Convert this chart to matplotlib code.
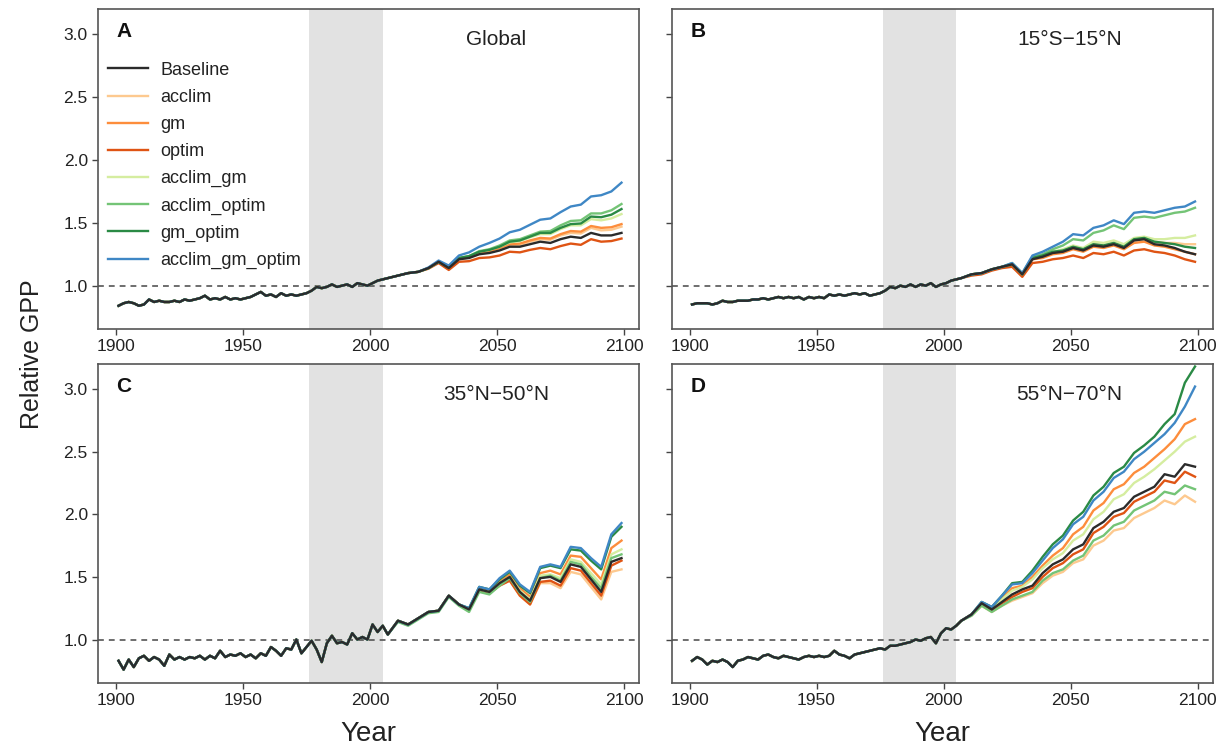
import numpy as np
import matplotlib
matplotlib.use('Agg')
import matplotlib.pyplot as plt

plt.rcParams['font.family'] = ['Liberation Sans', 'DejaVu Sans']

# years: shared history (every 2nd year) and scenario period (every 4th year)
hist_years = np.arange(1901, 2006, 2)
fut_years = np.arange(2007, 2100, 4)

# ---- A: Global ----
hist_global = [0.84, 0.86, 0.87, 0.86, 0.84, 0.85, 0.89, 0.87, 0.88, 0.87,
               0.87, 0.88, 0.87, 0.89, 0.88, 0.89, 0.90, 0.92, 0.89, 0.90,
               0.89, 0.91, 0.89, 0.90, 0.89, 0.90, 0.91, 0.93, 0.95, 0.92,
               0.93, 0.91, 0.94, 0.92, 0.93, 0.92, 0.93, 0.94, 0.96, 0.99,
               0.98, 0.99, 1.01, 0.99, 1.00, 1.01, 0.99, 1.02, 1.01, 1.00,
               1.02, 1.04, 1.05]
global_baseline = [1.06, 1.08, 1.10, 1.11, 1.14, 1.19, 1.14, 1.21, 1.22, 1.25, 1.26, 1.28,
                   1.31, 1.31, 1.33, 1.35, 1.34, 1.37, 1.39, 1.38, 1.42, 1.40, 1.40, 1.42]
global_acclim = [1.06, 1.08, 1.10, 1.11, 1.14, 1.19, 1.14, 1.21, 1.225, 1.255, 1.27, 1.29,
                 1.325, 1.325, 1.35, 1.37, 1.365, 1.40, 1.42, 1.415, 1.46, 1.44, 1.445, 1.47]
global_gm = [1.06, 1.08, 1.10, 1.11, 1.14, 1.19, 1.145, 1.215, 1.23, 1.26, 1.275, 1.30,
             1.33, 1.335, 1.36, 1.38, 1.375, 1.41, 1.435, 1.43, 1.475, 1.46, 1.465, 1.49]
global_optim = [1.06, 1.08, 1.10, 1.11, 1.135, 1.18, 1.125, 1.19, 1.195, 1.22, 1.225, 1.24,
                1.27, 1.265, 1.285, 1.30, 1.29, 1.315, 1.335, 1.325, 1.37, 1.35, 1.355, 1.375]
global_acclim_gm = [1.06, 1.08, 1.10, 1.11, 1.14, 1.19, 1.145, 1.22, 1.235, 1.27, 1.285, 1.31,
                    1.345, 1.355, 1.385, 1.41, 1.41, 1.45, 1.48, 1.48, 1.53, 1.52, 1.535, 1.57]
global_acclim_optim = [1.06, 1.08, 1.10, 1.11, 1.14, 1.19, 1.145, 1.22, 1.235, 1.275, 1.29, 1.32,
                       1.36, 1.37, 1.40, 1.43, 1.435, 1.48, 1.515, 1.52, 1.575, 1.575, 1.60, 1.65]
global_gm_optim = [1.06, 1.08, 1.10, 1.11, 1.14, 1.19, 1.145, 1.22, 1.235, 1.27, 1.285, 1.31,
                   1.35, 1.36, 1.39, 1.42, 1.42, 1.46, 1.49, 1.495, 1.55, 1.545, 1.565, 1.61]
global_acclim_gm_optim = [1.06, 1.08, 1.10, 1.11, 1.145, 1.20, 1.16, 1.24, 1.265, 1.31, 1.34, 1.375,
                          1.425, 1.445, 1.485, 1.525, 1.535, 1.585, 1.63, 1.645, 1.71, 1.72, 1.75, 1.82]

# ---- B: 15S-15N ----
hist_trop = [0.85, 0.86, 0.86, 0.86, 0.85, 0.86, 0.88, 0.87, 0.87, 0.88,
             0.88, 0.88, 0.89, 0.89, 0.90, 0.89, 0.90, 0.91, 0.90, 0.91,
             0.90, 0.91, 0.89, 0.91, 0.90, 0.91, 0.90, 0.93, 0.92, 0.93,
             0.92, 0.93, 0.94, 0.93, 0.94, 0.92, 0.93, 0.94, 0.96, 0.99,
             0.98, 1.00, 0.99, 1.01, 0.99, 1.01, 1.00, 1.02, 0.99, 1.01,
             1.02, 1.04, 1.05]
trop_baseline = [1.06, 1.09, 1.10, 1.13, 1.15, 1.17, 1.09, 1.21, 1.23, 1.26, 1.27, 1.30,
                 1.28, 1.32, 1.31, 1.33, 1.30, 1.36, 1.37, 1.33, 1.32, 1.30, 1.27, 1.25]
trop_acclim = [1.06, 1.09, 1.10, 1.13, 1.15, 1.17, 1.09, 1.21, 1.23, 1.26, 1.28, 1.31,
               1.29, 1.33, 1.32, 1.34, 1.31, 1.36, 1.37, 1.35, 1.34, 1.34, 1.33, 1.33]
trop_gm = [1.06, 1.09, 1.10, 1.13, 1.15, 1.17, 1.09, 1.21, 1.22, 1.25, 1.26, 1.29,
           1.27, 1.31, 1.30, 1.32, 1.29, 1.34, 1.35, 1.32, 1.31, 1.29, 1.27, 1.25]
trop_optim = [1.06, 1.08, 1.09, 1.12, 1.14, 1.15, 1.07, 1.18, 1.19, 1.21, 1.22, 1.24,
              1.22, 1.26, 1.25, 1.27, 1.24, 1.28, 1.29, 1.27, 1.26, 1.24, 1.21, 1.19]
trop_acclim_gm = [1.06, 1.09, 1.10, 1.13, 1.15, 1.17, 1.09, 1.22, 1.24, 1.27, 1.29, 1.32,
                  1.30, 1.35, 1.34, 1.36, 1.33, 1.38, 1.39, 1.37, 1.37, 1.38, 1.38, 1.40]
trop_acclim_optim = [1.06, 1.09, 1.10, 1.13, 1.15, 1.18, 1.10, 1.23, 1.25, 1.29, 1.32, 1.37,
                     1.36, 1.42, 1.44, 1.48, 1.45, 1.54, 1.55, 1.54, 1.56, 1.58, 1.59, 1.62]
trop_gm_optim = [1.06, 1.09, 1.10, 1.13, 1.15, 1.17, 1.09, 1.22, 1.24, 1.27, 1.28, 1.31,
                 1.29, 1.33, 1.32, 1.34, 1.31, 1.37, 1.38, 1.35, 1.34, 1.33, 1.31, 1.30]
trop_acclim_gm_optim = [1.06, 1.09, 1.10, 1.13, 1.15, 1.18, 1.10, 1.24, 1.27, 1.31, 1.35, 1.41,
                        1.40, 1.46, 1.48, 1.52, 1.49, 1.58, 1.59, 1.58, 1.60, 1.62, 1.63, 1.67]

# ---- C: 35N-50N ----
hist_mid = [0.83, 0.76, 0.84, 0.78, 0.85, 0.87, 0.83, 0.86, 0.84, 0.79,
            0.88, 0.84, 0.86, 0.84, 0.86, 0.85, 0.87, 0.84, 0.87, 0.85,
            0.91, 0.86, 0.88, 0.87, 0.89, 0.86, 0.88, 0.85, 0.89, 0.87,
            0.94, 0.91, 0.87, 0.93, 0.92, 1.00, 0.89, 0.94, 0.99, 0.92,
            0.82, 0.97, 1.03, 0.97, 0.98, 0.96, 1.05, 1.00, 1.02, 1.00,
            1.12, 1.06, 1.11]
mid_baseline = [1.04, 1.15, 1.12, 1.17, 1.22, 1.23, 1.35, 1.28, 1.24, 1.40, 1.38, 1.45,
                1.50, 1.38, 1.31, 1.49, 1.50, 1.46, 1.60, 1.58, 1.48, 1.38, 1.62, 1.65]
mid_acclim = [1.04, 1.15, 1.12, 1.17, 1.22, 1.23, 1.35, 1.28, 1.24, 1.40, 1.37, 1.43,
              1.47, 1.35, 1.28, 1.45, 1.45, 1.41, 1.54, 1.52, 1.42, 1.32, 1.54, 1.56]
mid_gm = [1.04, 1.15, 1.12, 1.17, 1.22, 1.23, 1.35, 1.28, 1.24, 1.41, 1.39, 1.46,
          1.52, 1.41, 1.34, 1.53, 1.55, 1.52, 1.67, 1.66, 1.57, 1.48, 1.73, 1.79]
mid_optim = [1.04, 1.15, 1.12, 1.17, 1.22, 1.23, 1.35, 1.28, 1.24, 1.39, 1.37, 1.43,
             1.47, 1.35, 1.28, 1.46, 1.47, 1.43, 1.57, 1.55, 1.45, 1.35, 1.59, 1.63]
mid_acclim_gm = [1.04, 1.15, 1.12, 1.17, 1.22, 1.23, 1.35, 1.28, 1.24, 1.40, 1.38, 1.45,
                 1.50, 1.39, 1.32, 1.51, 1.52, 1.49, 1.64, 1.62, 1.53, 1.44, 1.68, 1.72]
mid_acclim_optim = [1.04, 1.14, 1.11, 1.16, 1.21, 1.22, 1.34, 1.27, 1.22, 1.38, 1.36, 1.43,
                    1.49, 1.37, 1.30, 1.49, 1.51, 1.47, 1.62, 1.60, 1.50, 1.41, 1.65, 1.68]
mid_gm_optim = [1.04, 1.15, 1.12, 1.17, 1.22, 1.23, 1.35, 1.28, 1.25, 1.42, 1.40, 1.48,
                1.54, 1.43, 1.37, 1.57, 1.59, 1.57, 1.72, 1.71, 1.63, 1.56, 1.82, 1.90]
mid_acclim_gm_optim = [1.04, 1.15, 1.12, 1.17, 1.22, 1.23, 1.35, 1.28, 1.25, 1.42, 1.40, 1.49,
                       1.55, 1.44, 1.38, 1.58, 1.60, 1.58, 1.74, 1.73, 1.65, 1.58, 1.84, 1.93]

# ---- D: 55N-70N ----
hist_boreal = [0.83, 0.86, 0.84, 0.80, 0.83, 0.82, 0.84, 0.82, 0.78, 0.83,
               0.84, 0.86, 0.85, 0.84, 0.87, 0.88, 0.86, 0.85, 0.87, 0.86,
               0.85, 0.84, 0.86, 0.87, 0.86, 0.87, 0.86, 0.87, 0.91, 0.88,
               0.87, 0.85, 0.88, 0.89, 0.90, 0.91, 0.92, 0.93, 0.92, 0.95,
               0.95, 0.96, 0.97, 0.98, 1.00, 0.99, 1.01, 1.02, 0.97, 1.05,
               1.09, 1.08, 1.11]
boreal_baseline = [1.15, 1.20, 1.29, 1.24, 1.30, 1.36, 1.40, 1.43, 1.53, 1.60, 1.64, 1.72,
                   1.76, 1.89, 1.94, 2.02, 2.05, 2.14, 2.18, 2.22, 2.32, 2.30, 2.40, 2.38]
boreal_acclim = [1.15, 1.19, 1.27, 1.22, 1.27, 1.31, 1.34, 1.37, 1.45, 1.51, 1.54, 1.61,
                 1.64, 1.75, 1.79, 1.87, 1.89, 1.97, 2.01, 2.05, 2.11, 2.08, 2.15, 2.10]
boreal_gm = [1.15, 1.20, 1.29, 1.25, 1.33, 1.41, 1.43, 1.50, 1.59, 1.67, 1.73, 1.84,
             1.90, 2.03, 2.09, 2.20, 2.24, 2.33, 2.38, 2.45, 2.52, 2.60, 2.72, 2.76]
boreal_optim = [1.15, 1.20, 1.28, 1.23, 1.29, 1.34, 1.38, 1.41, 1.50, 1.57, 1.61, 1.68,
                1.72, 1.85, 1.90, 1.98, 2.01, 2.10, 2.14, 2.18, 2.27, 2.25, 2.34, 2.30]
boreal_acclim_gm = [1.15, 1.20, 1.29, 1.25, 1.32, 1.39, 1.42, 1.48, 1.57, 1.64, 1.69, 1.79,
                    1.84, 1.96, 2.02, 2.12, 2.16, 2.25, 2.30, 2.36, 2.43, 2.50, 2.58, 2.62]
boreal_acclim_optim = [1.15, 1.19, 1.27, 1.22, 1.27, 1.32, 1.35, 1.38, 1.47, 1.53, 1.56, 1.63,
                       1.67, 1.79, 1.83, 1.91, 1.94, 2.03, 2.07, 2.11, 2.18, 2.16, 2.23, 2.20]
boreal_gm_optim = [1.15, 1.20, 1.30, 1.26, 1.35, 1.45, 1.46, 1.55, 1.66, 1.76, 1.83, 1.95,
                   2.02, 2.15, 2.22, 2.33, 2.38, 2.49, 2.55, 2.62, 2.72, 2.80, 3.05, 3.18]
boreal_acclim_gm_optim = [1.15, 1.20, 1.30, 1.26, 1.35, 1.44, 1.45, 1.53, 1.63, 1.73, 1.80, 1.92,
                          1.98, 2.11, 2.18, 2.29, 2.34, 2.44, 2.50, 2.57, 2.64, 2.73, 2.86, 3.02]

scenarios = ['Baseline', 'acclim', 'gm', 'optim', 'acclim_gm',
             'acclim_optim', 'gm_optim', 'acclim_gm_optim']
colors = ['#2b2b2b', '#fdc98f', '#fd8d3c', '#df5414', '#d5eda0',
          '#74c476', '#2a8a45', '#3f87c5']


def draw_panel(ax, hist, runs, letter, region, left_labels):
  ax.axvspan(1976, 2005, color='#e2e2e2', lw=0, zorder=0)
  ax.axhline(1.0, color='#555555', ls=(0, (3.5, 3)), lw=1.2, zorder=1)

  # draw scenarios first, baseline on top
  order = list(range(1, len(scenarios))) + [0]
  lines = {}
  for i in order:
    x = np.concatenate([hist_years, fut_years])
    y = np.concatenate([hist, runs[i]])
    ln, = ax.plot(x, y, color=colors[i], lw=1.7, zorder=2 + i if i else 12,
                  label=scenarios[i])
    lines[i] = ln
  handles = [lines[i] for i in range(len(scenarios))]

  ax.set_xlim(1893, 2106)
  ax.set_ylim(0.655, 3.2)
  ax.set_xticks([1900, 1950, 2000, 2050, 2100])
  ax.set_yticks([1.0, 1.5, 2.0, 2.5, 3.0])
  ax.set_yticklabels(['1.0', '1.5', '2.0', '2.5', '3.0'])
  ax.tick_params(direction='out', length=4, width=1, color='#444444',
                 labelsize=12.5, labelcolor='#222222', labelleft=left_labels)
  for s in ax.spines.values():
    s.set_color('#555555')
    s.set_linewidth(1.2)

  ax.text(0.034, 0.93, letter, transform=ax.transAxes, fontsize=15,
          fontweight='bold', va='center', ha='left', color='#111111')
  ax.text(0.735, 0.905, region, transform=ax.transAxes, fontsize=15,
          va='center', ha='center', color='#222222')
  return handles


def main():
  fig = plt.figure(figsize=(12.2, 7.45), dpi=100)
  w = 0.4435
  ax_a = fig.add_axes([0.0805, 0.5584, w, 0.4291])
  ax_b = fig.add_axes([0.5506, 0.5584, w, 0.4291])
  ax_c = fig.add_axes([0.0805, 0.0836, w, 0.4278])
  ax_d = fig.add_axes([0.5506, 0.0836, w, 0.4278])

  runs_a = [global_baseline, global_acclim, global_gm, global_optim,
            global_acclim_gm, global_acclim_optim, global_gm_optim, global_acclim_gm_optim]
  runs_b = [trop_baseline, trop_acclim, trop_gm, trop_optim,
            trop_acclim_gm, trop_acclim_optim, trop_gm_optim, trop_acclim_gm_optim]
  runs_c = [mid_baseline, mid_acclim, mid_gm, mid_optim,
            mid_acclim_gm, mid_acclim_optim, mid_gm_optim, mid_acclim_gm_optim]
  runs_d = [boreal_baseline, boreal_acclim, boreal_gm, boreal_optim,
            boreal_acclim_gm, boreal_acclim_optim, boreal_gm_optim, boreal_acclim_gm_optim]

  handles = draw_panel(ax_a, hist_global, runs_a, 'A', 'Global', True)
  draw_panel(ax_b, hist_trop, runs_b, 'B', '15°S\u221215°N', False)
  draw_panel(ax_c, hist_mid, runs_c, 'C', '35°N\u221250°N', True)
  draw_panel(ax_d, hist_boreal, runs_d, 'D', '55°N\u221270°N', False)

  ax_a.legend(handles=handles, loc='upper left', bbox_to_anchor=(0.018, 0.836),
              frameon=False, fontsize=13, borderpad=0, borderaxespad=0,
              handlelength=2.2, handletextpad=0.7, labelspacing=0.56,
              labelcolor='#222222')

  for ax in (ax_c, ax_d):
    ax.set_xlabel('Year', fontsize=20, labelpad=9, color='#222222')
  fig.text(0.026, 0.525, 'Relative GPP', rotation=90, fontsize=18,
           va='center', ha='center', color='#222222')

  fig.savefig('out.png', dpi=100)


if __name__ == "__main__":
  main()
